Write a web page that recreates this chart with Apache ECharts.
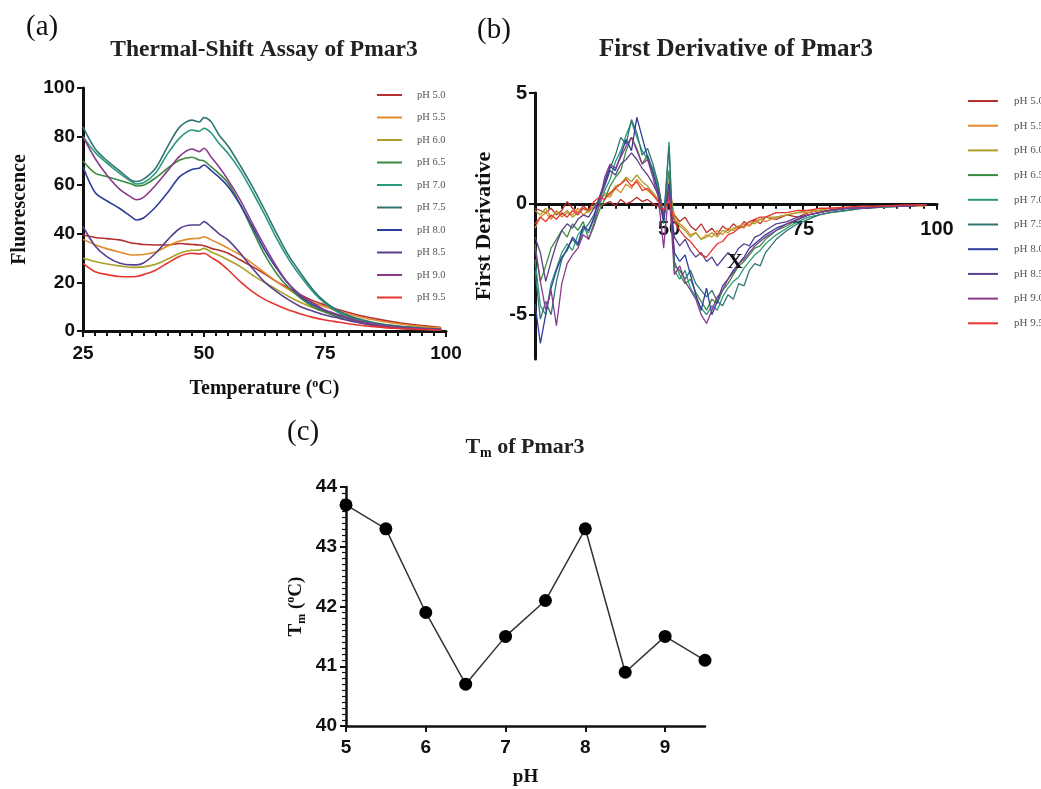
<!DOCTYPE html>
<html><head><meta charset="utf-8">
<script src="https://cdn.jsdelivr.net/npm/echarts@6/dist/echarts.min.js"></script>
<style>html,body{margin:0;padding:0;background:#fff}#c{width:1041px;height:789px}</style>
</head><body><div id="c"></div>
<script>
// ---------- data ----------
const phLabels = ['pH 5.0','pH 5.5','pH 6.0','pH 6.5','pH 7.0','pH 7.5','pH 8.0','pH 8.5','pH 9.0','pH 9.5'];
const phColors = ['#b5302f','#e08a2c','#a9a02a','#3a8a3e','#2a9a7c','#2f7470','#2f3d9c','#5a3f8e','#8a3a8c','#e8342e'];

// (a) Thermal-shift assay: temperature (°C) and fluorescence
const tempA = [25,27.5,30,32.5,35,36,37.5,40,42.5,45,47.5,49,50,51.5,53,55,57.5,60,62.5,65,67.5,70,72.5,75,78,81,85,90,95,99];
const fluo50 = [39.5,38.5,38,37.5,36.2,36,35.6,35.4,35.4,36,35.6,35.4,35.1,34,33.3,32,29.2,26.5,23.5,20.3,17.7,14.8,12.5,10.7,8.6,7,5.2,3.5,2.2,1.4];
const fluo55 = [37.7,35.5,33.8,32.5,31.3,31.3,31.5,32.5,35,37,38,38.1,38.8,37.5,36.1,34,31.3,27.8,24,20.3,17,14.1,11.7,10,8,6.4,4.6,3,1.8,1.2];
const fluo60 = [29.9,28.6,27.6,26.8,26.2,26.2,26.4,27.5,29.6,32,33.2,33.3,34,32.5,31.3,29.2,26.5,23,20,17.1,14.2,11.7,9.6,8,6.2,4.8,3.3,2,1.2,0.8];
const fluo65 = [70,65,63.5,62,60.5,59.7,60,63,67,70.4,71.5,70.4,70,67.5,65,60.8,52,41.6,31.5,23.7,17.8,13.4,10,7.7,5.6,4,2.3,1.2,0.7,0.4];
const fluo70 = [80,73.5,69,65,61.5,60.5,61,65,73,79.5,82.7,82.2,83.4,81.5,77.5,73,66,57.3,48,38.1,29.5,22.4,16.2,11.4,7.3,5,3,1.7,1,0.7];
const fluo75 = [84,75,70,66,62,61.5,62.5,67,76,84,86.8,86,87.8,86,81,76,68,59.4,50,40.2,31,23.7,17,12,8,5.5,3.5,2,1.2,0.8];
const fluo80 = [67.6,57,53.5,50.5,47,45.7,46.5,51,57,63.5,66.5,67,68.3,66,63.5,59.4,51.9,42.9,33.5,25.8,19.2,14.1,10.8,8.4,6.3,4.4,2.6,1.4,0.8,0.5];
const fluo85 = [43,35,30.5,28,27.2,27.2,28,32,37.5,42.2,43.6,43.6,45,42.8,40.2,37.4,32,25.8,20.2,16.2,12.8,10,8.2,6.6,5.2,3.8,2.4,1.3,0.8,0.5];
const fluo90 = [80,71,64,58.5,55,54,55,60,66,72,74.9,73.8,75.2,71.5,67.8,62.1,53.9,44.3,35,26.5,19.4,14.8,11.6,8.6,6.6,4.5,2.8,1.5,0.9,0.6];
const fluo95 = [27.8,24.4,23.2,22.4,22.3,22.4,23.2,25,28,30.8,32,31.7,32,30.3,28.5,25.1,20.3,16.2,13,10.7,8.6,7,5.6,4.5,3.6,2.7,1.8,1,0.6,0.4];
const fluoList = [fluo50,fluo55,fluo60,fluo65,fluo70,fluo75,fluo80,fluo85,fluo90,fluo95];

// (b) First derivative
const tempB = [25,26,27,28,29,30,31,32,33,34,35,36,37,38,39,40,41,42,43,44,45,46,47,48,49,50,51,52,53,54,55,56,57,58,59,60,61,62,63,64,65,66,67,68,70,72,74,76,78,80,83,86,90,94,98];
const deriv50 = [-0.2,-0.3,-0.4,-0.2,-0.5,-0.3,0.1,-0.2,-0.4,-0.1,-0.3,-0.2,-0.1,0.0,0.1,-0.1,0.2,0.0,0.1,0.3,0.1,0.2,0.0,-0.1,-0.4,0.4,-0.5,-0.8,-0.6,-1.0,-1.2,-0.9,-1.3,-1.1,-1.4,-1.0,-1.2,-0.9,-1.1,-0.8,-1.0,-0.7,-0.9,-0.6,-0.7,-0.5,-0.6,-0.4,-0.3,-0.3,-0.2,-0.2,-0.1,-0.1,-0.05];
const deriv55 = [-1.1,-0.6,-0.4,-0.7,-0.3,-0.6,-0.4,-0.5,-0.2,-0.5,-0.3,-0.1,0.1,0.4,0.3,0.7,0.5,0.9,0.7,1.1,0.8,0.6,0.4,0.1,-0.3,1.0,-0.6,-0.9,-1.1,-1.4,-1.3,-1.6,-1.4,-1.5,-1.2,-1.4,-1.1,-1.2,-1.0,-0.9,-1.0,-0.8,-0.7,-0.8,-0.6,-0.5,-0.4,-0.4,-0.3,-0.3,-0.2,-0.2,-0.15,-0.1,-0.1];
const deriv60 = [-0.3,-0.5,-0.2,-0.6,-0.4,-0.5,-0.3,-0.6,-0.4,-0.2,-0.4,-0.1,0.2,0.5,0.4,0.8,0.9,1.2,1.0,1.3,1.0,0.8,0.5,0.2,-0.4,0.8,-0.7,-1.0,-1.2,-1.5,-1.3,-1.6,-1.5,-1.3,-1.5,-1.2,-1.3,-1.1,-1.0,-1.1,-0.8,-0.9,-0.7,-0.6,-0.6,-0.5,-0.4,-0.3,-0.3,-0.2,-0.2,-0.15,-0.1,-0.1,-0.05];
const deriv65 = [-1.8,-3.5,-2.8,-2.0,-1.6,-1.2,-1.5,-0.9,-1.2,-0.8,-1.6,-1.0,-0.3,0.2,0.8,1.2,1.5,2.4,3.0,2.5,1.8,2.2,1.5,0.8,-0.5,1.5,-2.6,-3.2,-3.6,-3.4,-4.0,-4.4,-4.8,-4.3,-4.5,-3.9,-3.6,-3.2,-2.8,-2.6,-2.3,-2.0,-1.9,-1.6,-1.2,-1.0,-0.7,-0.5,-0.4,-0.3,-0.2,-0.2,-0.1,-0.1,-0.05];
const deriv70 = [-2.5,-4.6,-5.0,-3.6,-2.9,-2.2,-1.8,-2.1,-1.4,-1.1,-1.3,-0.7,-0.1,0.6,1.1,1.9,2.4,3.1,3.7,3.0,2.4,2.0,1.6,0.6,-0.9,2.8,-3.0,-3.4,-3.0,-3.8,-4.2,-4.7,-5.0,-4.6,-4.8,-4.2,-3.8,-3.5,-3.3,-2.9,-2.6,-2.3,-2.1,-1.8,-1.4,-1.1,-0.8,-0.6,-0.5,-0.4,-0.3,-0.2,-0.15,-0.1,-0.05];
const deriv75 = [-3.0,-5.2,-4.4,-5.0,-3.5,-2.5,-2.0,-1.6,-1.9,-1.2,-0.9,-0.5,0.2,0.9,1.6,2.2,3.0,2.7,3.8,3.2,2.2,2.5,1.8,0.9,-0.7,2.6,-2.8,-3.0,-3.4,-3.0,-3.6,-3.9,-4.2,-3.9,-4.4,-4.6,-4.1,-4.3,-3.6,-3.7,-3.0,-2.7,-2.8,-2.2,-1.6,-1.2,-0.9,-0.7,-0.5,-0.4,-0.3,-0.2,-0.15,-0.1,-0.05];
const deriv80 = [-4.5,-6.3,-5.0,-3.8,-3.0,-2.4,-2.1,-1.5,-1.8,-1.0,-1.2,-0.6,0.3,1.0,1.7,1.5,2.2,2.9,2.4,3.9,3.0,2.1,1.4,0.5,-0.8,0.9,-2.2,-2.6,-2.3,-3.2,-4.1,-4.8,-3.8,-5.0,-4.4,-3.7,-3.4,-3.0,-2.7,-2.4,-2.0,-1.8,-1.6,-1.4,-1.1,-0.9,-0.7,-0.5,-0.4,-0.3,-0.2,-0.2,-0.1,-0.1,-0.05];
const deriv85 = [-1.5,-2.2,-3.5,-2.6,-1.8,-1.2,-0.9,-1.1,-0.7,-0.5,-0.6,-0.2,0.2,0.8,1.5,1.3,1.8,2.0,2.3,2.0,1.6,1.3,0.9,0.4,-0.6,0.6,-1.5,-1.9,-1.6,-2.1,-2.4,-2.2,-2.6,-2.4,-2.8,-2.5,-2.2,-2.4,-2.0,-1.8,-1.9,-1.5,-1.4,-1.2,-0.9,-0.8,-0.6,-0.5,-0.4,-0.3,-0.2,-0.2,-0.1,-0.1,-0.05];
const deriv90 = [-2.0,-3.5,-4.8,-3.9,-5.5,-3.6,-2.7,-2.3,-2.0,-1.4,-1.6,-0.9,0.0,1.2,1.8,1.6,2.1,2.6,3.0,2.4,1.8,2.0,1.2,0.3,-2.0,0.7,-3.2,-2.8,-3.5,-3.9,-4.3,-5.0,-5.4,-4.8,-4.2,-3.9,-3.4,-3.1,-2.7,-2.5,-2.2,-1.9,-1.7,-1.5,-1.2,-0.9,-0.7,-0.5,-0.4,-0.3,-0.2,-0.2,-0.1,-0.1,-0.05];
const deriv95 = [-0.9,-0.6,-0.8,-0.5,-0.7,-0.4,-0.6,-0.3,-0.5,-0.2,-0.3,0.1,0.3,0.2,0.5,0.7,0.9,1.1,0.8,1.0,0.6,0.7,0.4,0.1,-0.3,0.2,-0.8,-1.2,-1.5,-1.7,-2.0,-2.3,-2.4,-2.1,-1.8,-1.7,-1.4,-1.3,-1.1,-1.0,-0.8,-0.7,-0.6,-0.6,-0.4,-0.4,-0.3,-0.3,-0.2,-0.2,-0.15,-0.1,-0.1,-0.05,-0.05];
const derivList = [deriv50,deriv55,deriv60,deriv65,deriv70,deriv75,deriv80,deriv85,deriv90,deriv95];
const xMarkPoint = [62.3, -2.65];

// (c) Tm vs pH
const phC = [5,5.5,6,6.5,7,7.5,8,8.5,9,9.5];
const tmC = [43.7,43.3,41.9,40.7,41.5,42.1,43.3,40.9,41.5,41.1];

// tick values
const ticksBy = [-5,0,5];
const ticksCx = [5,6,7,8,9];

// ---------- chart ----------
const chart = echarts.init(document.getElementById('c'), null, {renderer:'canvas'});
const INK = '#111';
const SERIF = 'Liberation Serif';
const SANS = 'Liberation Sans';
const zip = (xs, ys) => xs.map((x,i)=>[x, ys[i]]);

function baseAxis(extra){
  return Object.assign({
    type:'value',
    axisLine:{show:true, onZero:false, lineStyle:{color:INK, width:3}},
    axisTick:{show:true, length:6, lineStyle:{color:INK, width:2}},
    axisLabel:{color:INK, fontFamily:SANS, fontWeight:'bold', fontSize:19, margin:8},
    splitLine:{show:false},
    nameTextStyle:{color:INK, fontFamily:SERIF, fontWeight:'bold', fontSize:19}
  }, extra);
}
function richFor(size){
  return {
    sup:{fontFamily:SERIF, fontWeight:'bold', fontSize:Math.round(size*0.62), verticalAlign:'top', lineHeight:size+2, color:INK},
    sub:{fontFamily:SERIF, fontWeight:'bold', fontSize:Math.round(size*0.62), verticalAlign:'bottom', lineHeight:size+4, color:INK}
  };
}

const series = [];
phLabels.forEach((nm,i)=>{
  series.push({name:nm, type:'line', xAxisIndex:0, yAxisIndex:0, data:zip(tempA, fluoList[i]),
    showSymbol:false, symbol:'none', smooth:0.3, color:phColors[i],
    lineStyle:{width:1.6, color:phColors[i]}, z:3});
});
phLabels.forEach((nm,i)=>{
  series.push({name:nm, type:'line', xAxisIndex:1, yAxisIndex:1, data:zip(tempB, derivList[i]),
    showSymbol:false, symbol:'none', color:phColors[i],
    lineStyle:{width:1.3, color:phColors[i]}, z:3});
});
series.push({name:'Tm mark', type:'scatter', xAxisIndex:1, yAxisIndex:1, data:[xMarkPoint],
  symbolSize:2, itemStyle:{color:'rgba(0,0,0,0)'}, z:10, silent:true,
  label:{show:true, formatter:'X', position:'inside', color:INK, opacity:1,
    fontFamily:SERIF, fontWeight:'bold', fontSize:22}});
series.push({name:'Tm', type:'line', xAxisIndex:2, yAxisIndex:2, data:zip(phC, tmC),
  symbol:'circle', symbolSize:13, clip:false,
  lineStyle:{width:1.5, color:'#333'}, itemStyle:{color:'#000'}});

const legendBase = {
  data: phLabels, orient:'vertical', icon:'rect', itemHeight:2, selectedMode:false
};

// grid (b) geometry, used to place its x axis on the zero line
const gridB = {left:535, top:93, width:402, height:266};
const yBmin = -7, yBmax = 5;
const zeroOffsetB = -gridB.height * (0 - yBmin) / (yBmax - yBmin);

const option = {
  animation:false,
  backgroundColor:'#fff',
  title:[
    {text:'(a)', left:26, top:13, padding:0, textStyle:{fontFamily:SERIF, fontWeight:'normal', fontSize:29, color:INK}},
    {text:'(b)', left:477, top:16, padding:0, textStyle:{fontFamily:SERIF, fontWeight:'normal', fontSize:29, color:INK}},
    {text:'(c)', left:287, top:418, padding:0, textStyle:{fontFamily:SERIF, fontWeight:'normal', fontSize:29, color:INK}},
    {text:'Thermal-Shift Assay of Pmar3', left:264, textAlign:'center', top:38, padding:0,
      textStyle:{fontFamily:SERIF, fontWeight:'bold', fontSize:23.5, color:'#222'}},
    {text:'First Derivative of Pmar3', left:736, textAlign:'center', top:37, padding:0,
      textStyle:{fontFamily:SERIF, fontWeight:'bold', fontSize:25, color:'#222'}},
    {text:'T{sub|m} of Pmar3', left:525, textAlign:'center', top:434, padding:0,
      textStyle:{fontFamily:SERIF, fontWeight:'bold', fontSize:22, color:'#222', rich:richFor(22)}}
  ],
  legend:[
    Object.assign({}, legendBase, {left:372, top:83, itemWidth:25, itemGap:8.5,
      textStyle:{fontFamily:SERIF, fontSize:10.5, color:'#555', lineHeight:14, padding:[0,0,0,10]}}),
    Object.assign({}, legendBase, {left:963, top:89, itemWidth:30, itemGap:10.7,
      textStyle:{fontFamily:SERIF, fontSize:11, color:'#555', lineHeight:14, padding:[0,0,0,11]}})
  ],
  grid:[
    {left:83, top:88, width:363, height:243, outerBoundsMode:'none', containLabel:false},
    Object.assign({outerBoundsMode:'none', containLabel:false}, gridB),
    {left:346, top:487, width:359, height:239, outerBoundsMode:'none', containLabel:false}
  ],
  xAxis:[
    baseAxis({gridIndex:0, min:25, max:100, interval:25,
      minorTick:{show:true, splitNumber:10, length:5, lineStyle:{color:INK, width:2}},
      axisLabel:{color:INK, fontFamily:SANS, fontWeight:'bold', fontSize:19, margin:13},
      name:'Temperature ({sup|o}C)', nameLocation:'middle', nameGap:47,
      nameTextStyle:{color:INK, fontFamily:SERIF, fontWeight:'bold', fontSize:20, rich:richFor(20)}}),
    baseAxis({gridIndex:1, min:25, max:100, interval:25, offset:zeroOffsetB,
      minorTick:{show:true, splitNumber:10, length:5, lineStyle:{color:INK, width:2}},
      axisLabel:{color:INK, fontFamily:SANS, fontWeight:'bold', fontSize:20, margin:16,
        formatter:v=> v===25 ? '' : String(v)}}),
    baseAxis({gridIndex:2, min:5, max:9.5,
      axisLine:{show:true, onZero:false, lineStyle:{color:INK, width:2.5}},
      axisTick:{show:true, length:6, lineStyle:{color:INK, width:2}, customValues:ticksCx},
      axisLabel:{color:INK, fontFamily:SANS, fontWeight:'bold', fontSize:19, margin:12, customValues:ticksCx},
      name:'pH', nameLocation:'middle', nameGap:42,
      nameTextStyle:{color:INK, fontFamily:SERIF, fontWeight:'bold', fontSize:19}})
  ],
  yAxis:[
    baseAxis({gridIndex:0, min:0, max:100, interval:20,
      name:'Fluorescence', nameLocation:'middle', nameGap:53,
      nameTextStyle:{color:INK, fontFamily:SERIF, fontWeight:'bold', fontSize:20}}),
    baseAxis({gridIndex:1, min:yBmin, max:yBmax,
      axisTick:{show:true, length:6, lineStyle:{color:INK, width:2}, customValues:ticksBy},
      axisLabel:{color:INK, fontFamily:SANS, fontWeight:'bold', fontSize:20, margin:8, customValues:ticksBy},
      name:'First Derivative', nameLocation:'middle', nameGap:40,
      nameTextStyle:{color:INK, fontFamily:SERIF, fontWeight:'bold', fontSize:22}}),
    baseAxis({gridIndex:2, min:40, max:44, interval:1,
      axisLine:{show:true, onZero:false, lineStyle:{color:INK, width:2.5}},
      minorTick:{show:true, splitNumber:10, length:4, lineStyle:{color:INK, width:1.2}},
      axisLabel:{color:INK, fontFamily:SANS, fontWeight:'bold', fontSize:19, margin:9},
      name:'T{sub|m} ({sup|o}C)', nameLocation:'middle', nameGap:38,
      nameTextStyle:{color:INK, fontFamily:SERIF, fontWeight:'bold', fontSize:19, rich:richFor(19)}})
  ],
  series:series
};
chart.setOption(option);
</script>
</body></html>
